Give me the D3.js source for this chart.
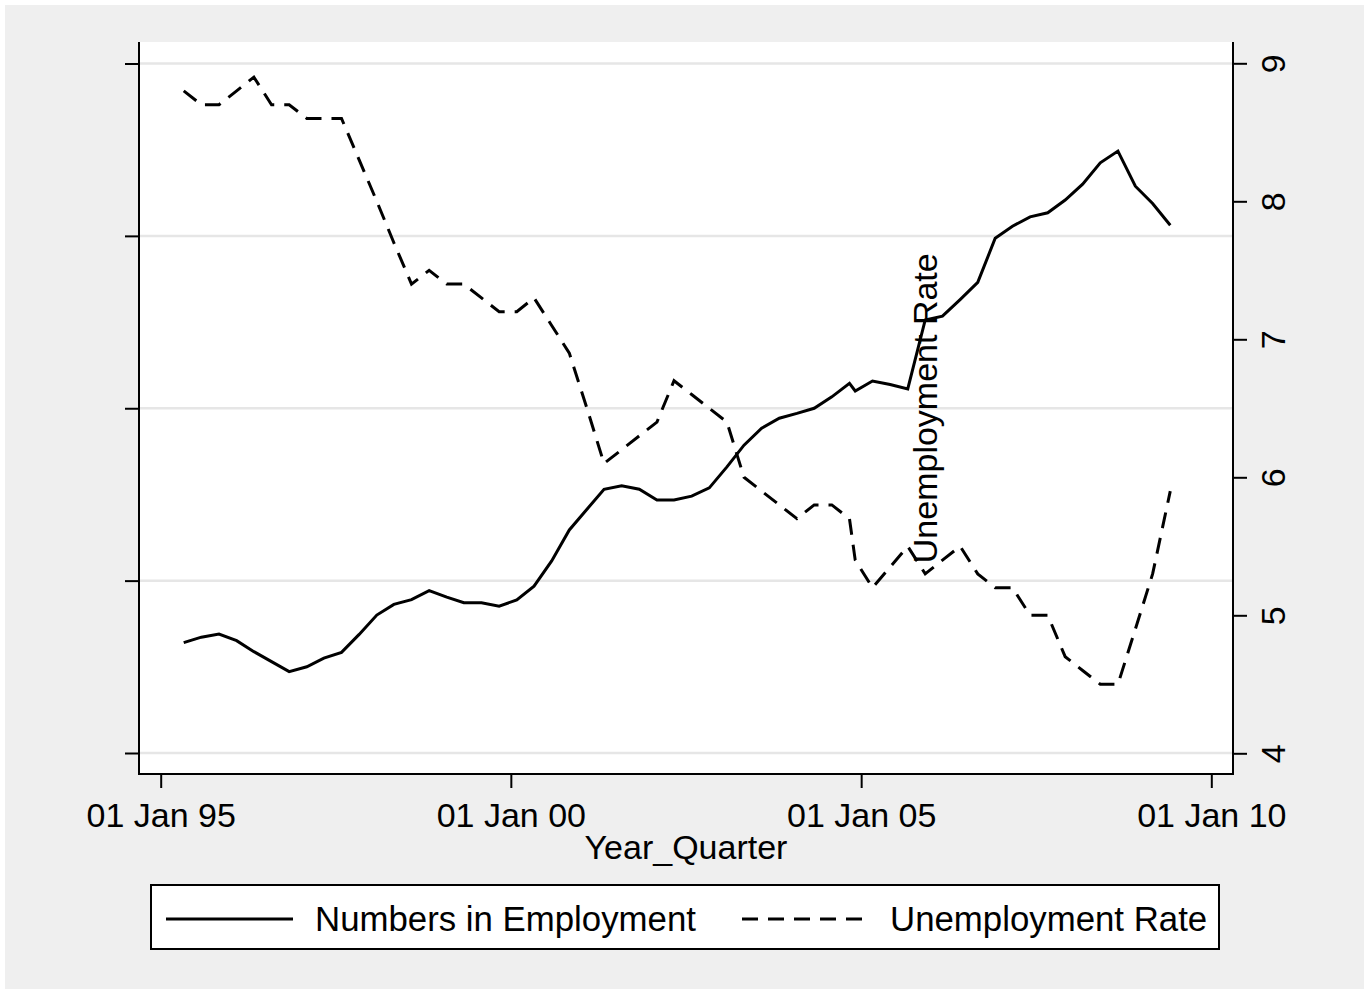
<!DOCTYPE html>
<html>
<head>
<meta charset="utf-8">
<script src="https://cdn.jsdelivr.net/npm/d3@7"></script>
<style>
  html, body { margin: 0; padding: 0; background: #ffffff; }
  svg { display: block; }
  text { font-family: "Liberation Sans", Arial, "DejaVu Sans", sans-serif; fill: #000; }
</style>
</head>
<body>
<svg id="chart" width="1369" height="994"></svg>
<script>
// ---------------- data ----------------
const dates = ["1995-05-01","1995-08-01","1995-11-01","1996-02-01","1996-05-01","1996-08-01","1996-11-01",
  "1997-02-01","1997-05-01","1997-08-01","1997-11-01","1998-02-01","1998-05-01","1998-08-01","1998-11-01",
  "1999-02-01","1999-05-01","1999-08-01","1999-11-01","2000-02-01","2000-05-01","2000-08-01","2000-11-01",
  "2001-02-01","2001-05-01","2001-08-01","2001-11-01","2002-02-01","2002-05-01","2002-08-01","2002-11-01",
  "2003-02-01","2003-05-01","2003-08-01","2003-11-01","2004-02-01","2004-05-01","2004-08-01","2004-11-01",
  "2004-12-01","2005-03-01","2005-06-01","2005-09-01","2005-12-01","2006-03-01","2006-06-01","2006-09-01",
  "2006-12-01","2007-03-01","2007-06-01","2007-09-01","2007-12-01","2008-03-01","2008-06-01","2008-09-01",
  "2008-12-01","2009-03-01","2009-06-01"];

// Numbers in Employment (thousands, left axis – unlabelled)
const employment = [2332.0,2333.6,2334.5,2332.6,2329.4,2326.5,2323.6,2325.0,2327.5,2329.2,
  2334.4,2340.0,2343.1,2344.5,2347.1,2345.2,2343.6,2343.6,2342.6,2344.4,
  2348.4,2355.7,2364.7,2370.7,2376.5,2377.5,2376.5,2373.4,2373.4,2374.5,
  2376.9,2383.0,2389.3,2394.2,2397.1,2398.5,2400.0,2403.3,2407.2,2405.0,
  2407.9,2406.9,2405.6,2425.6,2426.7,2431.5,2436.5,2449.3,2452.8,2455.5,
  2456.7,2460.4,2465.0,2471.2,2474.6,2464.4,2459.4,2453.1];

// Unemployment Rate (%, right axis)
const unemployment = [8.8,8.7,8.7,8.8,8.9,8.7,8.7,8.6,8.6,8.6,
  8.3,8.0,7.7,7.4,7.5,7.4,7.4,7.3,7.2,7.2,
  7.3,7.1,6.9,6.5,6.1,6.2,6.3,6.4,6.7,6.6,
  6.5,6.4,6.0,5.9,5.8,5.7,5.8,5.8,5.7,5.4,
  5.2,5.35,5.5,5.3,5.4,5.5,5.3,5.2,5.2,5.0,
  5.0,4.7,4.6,4.5,4.5,4.9,5.3,5.9];

const xTickDates = ["1995-01-01","2000-01-01","2005-01-01","2010-01-01"];
const xTickLabels = ["01 Jan 95","01 Jan 00","01 Jan 05","01 Jan 10"];
const leftTicks = [2300, 2350, 2400, 2450, 2500];
const rightTicks = [4, 5, 6, 7, 8, 9];
const seriesNames = ["Numbers in Employment", "Unemployment Rate"];
const xTitle = "Year_Quarter";
const annotation = { text: "Unemployment Rate", date: "2006-02-01", value: 2400 };

// ---------------- layout ----------------
const W = 1369, H = 994;
const plot = { left: 139, right: 1233, top: 42, bottom: 774 };
const FONT = 34;
const LEGEND_FONT = 34.8;
const DASH = "16,10";

const parse = s => new Date(s + "T00:00:00Z");

const x = d3.scaleUtc()
  .domain([parse("1995-01-01"), parse("2010-01-01")])
  .range([160.7, 1211.3]);
const yL = d3.scaleLinear().domain([2300, 2500]).range([753, 63.5]);
const yR = d3.scaleLinear().domain([4, 9]).range([753.3, 63.3]);

const svg = d3.select("#chart");

// outer background
svg.append("rect").attr("x", 0).attr("y", 0).attr("width", W).attr("height", H).attr("fill", "#ffffff");
svg.append("rect").attr("x", 5).attr("y", 5).attr("width", W - 10).attr("height", H - 10).attr("fill", "#efefef");

// plot region
svg.append("rect")
  .attr("x", plot.left).attr("y", plot.top)
  .attr("width", plot.right - plot.left).attr("height", plot.bottom - plot.top)
  .attr("fill", "#ffffff");

// gridlines (left-axis ticks)
svg.append("g").selectAll("line").data(leftTicks).join("line")
  .attr("x1", plot.left).attr("x2", plot.right)
  .attr("y1", d => yL(d)).attr("y2", d => yL(d))
  .attr("stroke", "#e6e6e6").attr("stroke-width", 2.5);

// left axis (ticks, no labels)
const gL = svg.append("g").attr("transform", `translate(${plot.left},0)`)
  .call(d3.axisLeft(yL).tickValues(leftTicks).tickFormat("").tickSize(14).tickSizeOuter(0));
gL.select(".domain").remove();
gL.selectAll(".tick line").attr("stroke", "#000").attr("stroke-width", 2);
svg.append("line").attr("x1", plot.left).attr("x2", plot.left)
  .attr("y1", plot.top).attr("y2", plot.bottom + 1)
  .attr("stroke", "#000").attr("stroke-width", 2);

// right axis
const gR = svg.append("g").attr("transform", `translate(${plot.right},0)`)
  .call(d3.axisRight(yR).tickValues(rightTicks).tickFormat(d3.format("d")).tickSize(14).tickSizeOuter(0));
gR.select(".domain").remove();
gR.selectAll(".tick line").attr("stroke", "#000").attr("stroke-width", 2);
gR.selectAll(".tick text")
  .attr("x", 0).attr("dy", null).attr("y", null)
  .attr("transform", "translate(52,0) rotate(-90)")
  .attr("text-anchor", "middle")
  .style("font-size", FONT + "px")
  .style("font-family", "'Liberation Sans', Arial, sans-serif");
svg.append("line").attr("x1", plot.right).attr("x2", plot.right)
  .attr("y1", plot.top).attr("y2", plot.bottom + 1)
  .attr("stroke", "#000").attr("stroke-width", 2);

// bottom axis
const gX = svg.append("g").attr("transform", `translate(0,${plot.bottom})`)
  .call(d3.axisBottom(x).tickValues(xTickDates.map(parse))
    .tickFormat((d, i) => xTickLabels[i]).tickSize(14).tickSizeOuter(0));
gX.select(".domain").remove();
gX.selectAll(".tick line").attr("stroke", "#000").attr("stroke-width", 2);
gX.selectAll(".tick text")
  .attr("y", 53).attr("dy", null)
  .style("font-size", FONT + "px")
  .style("font-family", "'Liberation Sans', Arial, sans-serif");
svg.append("line").attr("x1", plot.left - 1).attr("x2", plot.right + 1)
  .attr("y1", plot.bottom).attr("y2", plot.bottom)
  .attr("stroke", "#000").attr("stroke-width", 2);

// x title
svg.append("text")
  .attr("x", (plot.left + plot.right) / 2).attr("y", 859)
  .attr("text-anchor", "middle").style("font-size", FONT + "px")
  .text(xTitle);

// series
const rows = dates.map((d, i) => ({ date: parse(d), emp: employment[i], unemp: unemployment[i] }));

svg.append("path").datum(rows)
  .attr("fill", "none").attr("stroke", "#000").attr("stroke-width", 3)
  .attr("d", d3.line().x(d => x(d.date)).y(d => yL(d.emp)));

svg.append("path").datum(rows)
  .attr("fill", "none").attr("stroke", "#000").attr("stroke-width", 3)
  .attr("stroke-dasharray", DASH)
  .attr("d", d3.line().x(d => x(d.date)).y(d => yR(d.unemp)));

// annotation text (vertical)
svg.append("text")
  .attr("transform", `translate(${x(parse(annotation.date))},${yL(annotation.value)}) rotate(-90)`)
  .attr("text-anchor", "middle")
  .style("font-size", FONT + "px")
  .text(annotation.text);

// legend
const lg = svg.append("g");
lg.append("rect").attr("x", 151).attr("y", 885).attr("width", 1068).attr("height", 64)
  .attr("fill", "#ffffff").attr("stroke", "#000").attr("stroke-width", 2);
const legendItems = [
  { name: seriesNames[0], x1: 166, x2: 293, tx: 315, dash: null },
  { name: seriesNames[1], x1: 742, x2: 868, tx: 890, dash: DASH }
];
legendItems.forEach(it => {
  const l = lg.append("line").attr("x1", it.x1).attr("x2", it.x2)
    .attr("y1", 919).attr("y2", 919)
    .attr("stroke", "#000").attr("stroke-width", 3);
  if (it.dash) l.attr("stroke-dasharray", it.dash);
  lg.append("text").attr("x", it.tx).attr("y", 931)
    .style("font-size", LEGEND_FONT + "px").text(it.name);
});
</script>
</body>
</html>
